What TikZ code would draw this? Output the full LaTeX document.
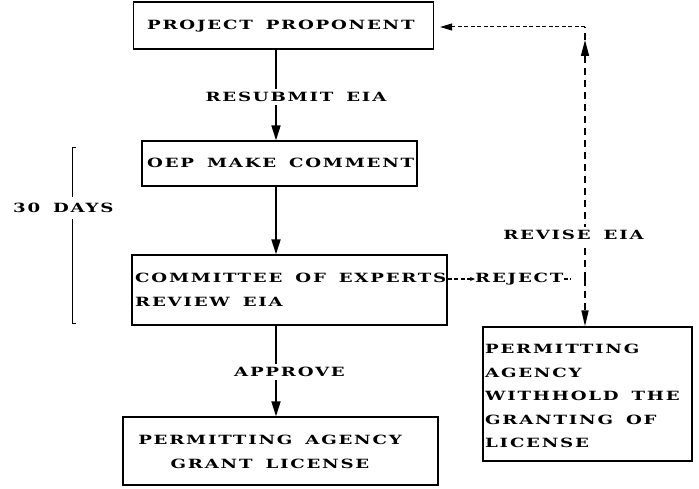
\documentclass[tikz,border=0pt]{standalone}
\usepackage{fontspec}
\newfontfamily\dotfont[FakeStretch=1.43,LetterSpace=14,WordSpace=1.6]{DejaVu Serif}
\usetikzlibrary{arrows.meta,calc}
\begin{document}
\begin{tikzpicture}[x=1pt,y=-1pt,
  every node/.style={font=\dotfont\bfseries\fontsize{12.7}{23.5}\selectfont, inner sep=0pt},
  box/.style={draw, line width=1.3pt},
  lbl/.style={fill=white, inner sep=3pt},
  flow/.style={line width=1.8pt, -{Triangle[length=15pt,width=9pt]}},
  back/.style={line width=1.6pt, dash pattern=on 7pt off 5pt},
  fine/.style={line width=1pt, dash pattern=on 4pt off 2.5pt}]
\useasboundingbox (0,0) rectangle (699,489);

% boxes
\node[box, minimum width=300, minimum height=47] (pp) at (283.5,25.5) {};
\node[anchor=west] (ppt) at (147,26) {PROJECT PROPONENT};

\node[box, minimum width=275, minimum height=45] (oep) at (279.5,163.5) {};
\node[anchor=west] (oept) at (147,163) {OEP MAKE COMMENT};

\node[box, minimum width=315, minimum height=70] (coe) at (289.5,290) {};
\node[anchor=west, align=left] (coet) at (135,290) {COMMITTEE OF EXPERTS\\REVIEW EIA};

\node[box, minimum width=315, minimum height=68] (gl) at (280.5,451) {};
\node[align=center] (glt) at (270,452) {PERMITTING AGENCY\\GRANT LICENSE};

\node[box, minimum width=209, minimum height=134] (wh) at (587.5,394) {};
\node[anchor=west, align=left] (wht) at (485,396)
  {PERMITTING\\AGENCY\\WITHHOLD THE\\GRANTING OF\\LICENSE};

% main flow
\coordinate (spine) at (276,0);
\draw[flow] (pp.south -| spine) -- (oep.north -| spine);
\draw[flow] (oep.south -| spine) -- (coe.north -| spine);
\draw[flow] (coe.south -| spine) -- (gl.north -| spine);
\node[lbl] (resub) at (296,97) {RESUBMIT EIA};
\node[lbl] (appr) at (289.5,372) {APPROVE};

% rejection and revision loop
\node[anchor=west] (rej) at (475,279) {REJECT};
\coordinate (rj) at (585,279);
\coordinate (up) at (585,40);
\coordinate (corner) at (585,27);
\draw[fine, -{Stealth[length=5pt,width=4pt]}] (coe.east |- rej) -- (rej.west);
\draw[fine] (rej.east) -- ++(7,0);
\draw[back, -{Triangle[length=16pt,width=8pt]}] (rj) -- (up);
\draw[back] (up) -- (corner);
\draw[fine, shorten >=6pt, -{Triangle[length=12pt,width=7pt]}] (corner) -- (corner -| pp.east);
\draw[back, -{Triangle[length=16pt,width=7pt]}] (rj) -- (wh.north -| rj);
\node[lbl] (rev) at (573.5,235) {REVISE EIA};

% time span bracket
\coordinate (bt) at (72,148);
\coordinate (bb) at (72,323);
\draw[line width=1pt] ($(bt)+(4,0)$) -- (bt) -- (bb) -- ($(bb)+(4,0)$);
\node[lbl, inner ysep=6pt, anchor=west] (days) at (10,208) {30 DAYS};
\end{tikzpicture}
\end{document}
